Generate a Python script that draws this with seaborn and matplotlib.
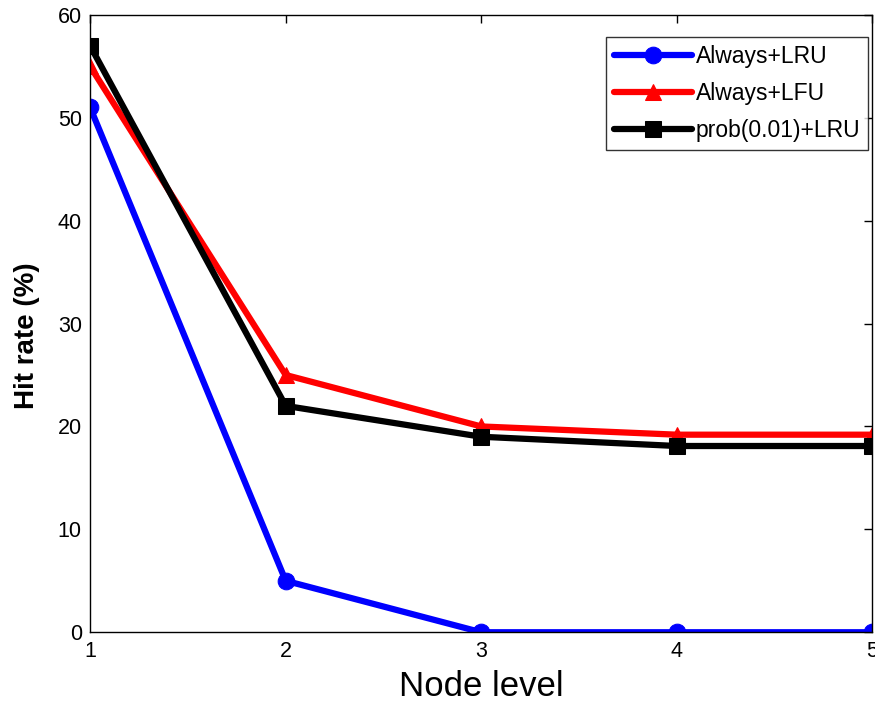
import pandas as pd
import matplotlib
matplotlib.use("Agg")
import matplotlib.pyplot as plt
import seaborn as sns

node_level = [1, 2, 3, 4, 5]
always_lru = [51, 5, 0, 0, 0]
always_lfu = [55, 25, 20, 19.2, 19.2]
prob_lru = [57, 22, 19, 18.1, 18.1]

labels = ["Always+LRU", "Always+LFU", "prob(0.01)+LRU"]
colors = ["#0000ff", "#ff0000", "#000000"]
markers = ["o", "^", "s"]

df = pd.DataFrame({"Node level": node_level * 3,
                   "Hit rate": always_lru + always_lfu + prob_lru,
                   "scheme": [l for l in labels for _ in node_level]})

sns.set_style("white")
plt.rcParams['font.family'] = ['Liberation Sans', 'DejaVu Sans']
plt.rcParams['text.color'] = 'black'
plt.rcParams['axes.labelcolor'] = 'black'
plt.rcParams['xtick.color'] = 'black'
plt.rcParams['ytick.color'] = 'black'

fig = plt.figure(figsize=(8.75, 7.08), dpi=100)
ax = fig.add_axes([0.103, 0.107, 0.894, 0.872])

for lab, col, mk in zip(labels, colors, markers):
    sub = df[df["scheme"] == lab]
    sns.lineplot(data=sub, x="Node level", y="Hit rate", ax=ax, color=col,
                 marker=mk, markersize=12, linewidth=4.5, label=lab,
                 markeredgecolor=col)

ax.set_xlim(1, 5)
ax.set_ylim(0, 60)
ax.set_xticks(node_level)
ax.set_yticks(range(0, 61, 10))
ax.tick_params(direction="in", length=6, labelsize=15.5, top=True, right=True,
               width=1, pad=6)
for s in ax.spines.values():
    s.set_linewidth(1)
    s.set_color("black")
ax.set_xlabel("Node level", fontsize=25, labelpad=6)
ax.set_ylabel("Hit rate (%)", fontsize=20, fontweight="bold")
ax.yaxis.set_label_coords(-0.064, 0.48)

leg = ax.legend(loc="upper right", bbox_to_anchor=(0.995, 0.964),
                fontsize=16.5, frameon=True, fancybox=False,
                edgecolor="black", handlelength=3.4, borderpad=0.35,
                labelspacing=0.6, handletextpad=0.15, borderaxespad=0)
leg.get_frame().set_linewidth(1)

fig.savefig("out.png", dpi=100)
